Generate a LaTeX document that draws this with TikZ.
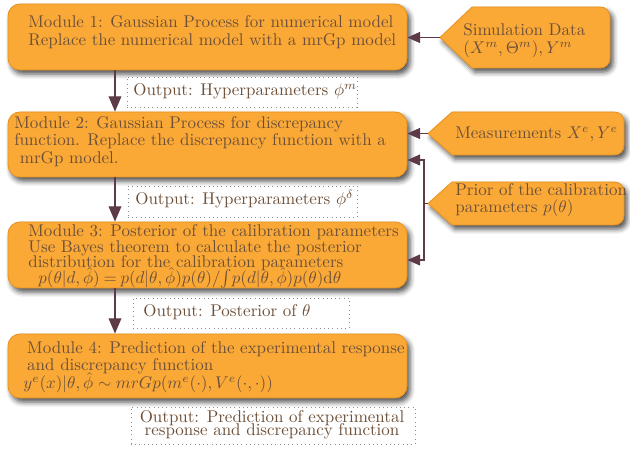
\documentclass[tikz,border=0pt]{standalone}
\usetikzlibrary{shadows.blur,arrows.meta,fit}
\definecolor{boxfill}{HTML}{FAA937}
\definecolor{boxline}{HTML}{E8921F}
\definecolor{txt}{HTML}{6E5038}
\definecolor{conn}{HTML}{5C3A47}
\newcommand\mytightlines{\setlength{\lineskiplimit}{-20pt}\relax}
\tikzset{
 shad/.style={blur shadow={shadow xshift=1.8pt, shadow yshift=-2.4pt, shadow blur radius=3pt, shadow opacity=70}},
 modbox/.style={draw=boxline, line width=0.5pt, fill=boxfill, rounded corners=7pt, inner sep=0pt, shad},
 outbox/.style={draw=black!45, dotted, line width=0.5pt, fill=white, inner sep=0pt},
 sigbox/.style={draw=boxline, line width=0.5pt, fill=boxfill, shad},
 tx/.style={text=txt, inner sep=0pt, align=left, font=\fontsize{10}{#1}\selectfont\mytightlines},
 tx/.default=10.6,
 txc/.style={text=txt, inner sep=0pt, align=center, font=\fontsize{10}{#1}\selectfont\mytightlines},
 arr/.style={draw=conn, line width=0.8pt, -{Triangle[length=9pt,width=7.5pt]}},
 sidearr/.style={draw=conn, line width=0.7pt, -{Triangle[length=7.5pt,width=6.5pt]}},
 thinconn/.style={draw=conn, line width=0.6pt},
}
\begin{document}
\begin{tikzpicture}[x=0.589pt,y=-0.589pt]
\useasboundingbox (0,0) rectangle (630,450);

% module boxes
\node[modbox, fit={(8,4) (407,70)}] (m1) {};
\node[modbox, fit={(8,112) (407,177)}] (m2) {};
\node[modbox, fit={(8,222) (407,288)}] (m3) {};
\node[modbox, fit={(8,334) (407,398)}] (m4) {};

% output boxes
\node[outbox, fit={(127,77) (357,107)}] (o1) {};
\node[outbox, fit={(128,186) (357,217)}] (o2) {};
\node[outbox, fit={(133,298) (349,328)}] (o3) {};
\node[outbox, fit={(131,407) (415,444)}] (o4) {};

% input (signal) boxes
\path[sigbox] (472,7) -- (600,7) .. controls (606,7) and (610,11) .. (610,17) -- (610,58) .. controls (610,64) and (606,68) .. (600,68) -- (472,68) -- (440,37.5) -- cycle;
\path[sigbox] (452,112) -- (614,112) .. controls (620,112) and (624,116) .. (624,122) -- (624,145) .. controls (624,151) and (620,155) .. (614,155) -- (452,155) -- (428,133.5) -- cycle;
\path[sigbox] (452,182) -- (614,182) .. controls (620,182) and (624,186) .. (624,192) -- (624,215) .. controls (624,221) and (620,225) .. (614,225) -- (452,225) -- (428,203.5) -- cycle;

% texts
\node[tx=10.6, anchor=north west] (t1) at (28,15.2) {Module 1: Gaussian Process for numerical model\\Replace the numerical model with a mrGp model};
\node[tx=10.3, anchor=north west] (t2) at (14,116.2) {Module 2: Gaussian Process for discrepancy\\function. Replace the discrepancy function with a\\\hspace*{3.3pt}mrGp model.};
\node[tx=9.25, anchor=north west] (t3) at (28,224.2) {Module 3: Posterior of the calibration parameters\\Use Bayes theorem to calculate the posterior\\distribution for the calibration parameters\\\hspace*{5.9pt}$p(\theta|d,\hat{\phi})\mkern-1mu=\mkern-1mu p(d|\theta,\hat{\phi})p(\theta)/\!\int\! p(d|\theta,\hat{\phi})p(\theta)\mathrm{d}\theta$};
\node[tx=10.3, anchor=north west] (t4) at (23,341.2) {\hspace*{2.3pt}Module 4: Prediction of the experimental response\\\hspace*{2.3pt}and discrepancy function\\$y^e(x)|\theta,\hat{\phi}\sim mrGp(m^e(\cdot),V^e(\cdot,\cdot))$};

\node[tx, anchor=base west] (ot1) at (133,96) {Output: Hyperparameters $\phi^m$};
\node[tx, anchor=base west] (ot2) at (135,205) {Output: Hyperparameters $\phi^\delta$};
\node[tx, anchor=base west] (ot3) at (143,317) {Output: Posterior of $\theta$};
\node[txc=7.7, anchor=north] (ot4) at (272,410.2) {Output: Prediction of experimental\\response and discrepancy function};

\node[tx=10.6, anchor=north west] (st1) at (463,23.2) {Simulation Data\\$(X^m,\Theta^m),Y^m$};
\node[tx, anchor=base west] (st2) at (455,139) {Measurements $X^e,Y^e$};
\node[tx=9.8, anchor=north west] (st3) at (455,183.2) {Prior of the calibration\\parameters $p(\theta)$};

% connectors
\coordinate (ax) at (115,0);
\draw[arr] (m1.south -| ax) -- (m2.north -| ax);
\draw[arr] (m2.south -| ax) -- (m3.north -| ax);
\draw[arr] (m3.south -| ax) -- (m4.north -| ax);

\coordinate (s1) at (440,37.5);
\coordinate (s2) at (428,133.5);
\coordinate (s3) at (428,203.5);
\coordinate (j) at (424,203.5);
\coordinate (j2) at (424,160);
\coordinate (j3) at (424,260);
\draw[sidearr] (s1) -- (s1 -| m1.east);
\draw[sidearr] (s2) -- (s2 -| m2.east);
\draw[thinconn] (s3) -- (j);
\draw[sidearr, line width=0.6pt] (j) -- (j2) -- (j2 -| m2.east);
\draw[sidearr, line width=0.6pt] (j) -- (j3) -- (j3 -| m3.east);
\end{tikzpicture}
\end{document}
